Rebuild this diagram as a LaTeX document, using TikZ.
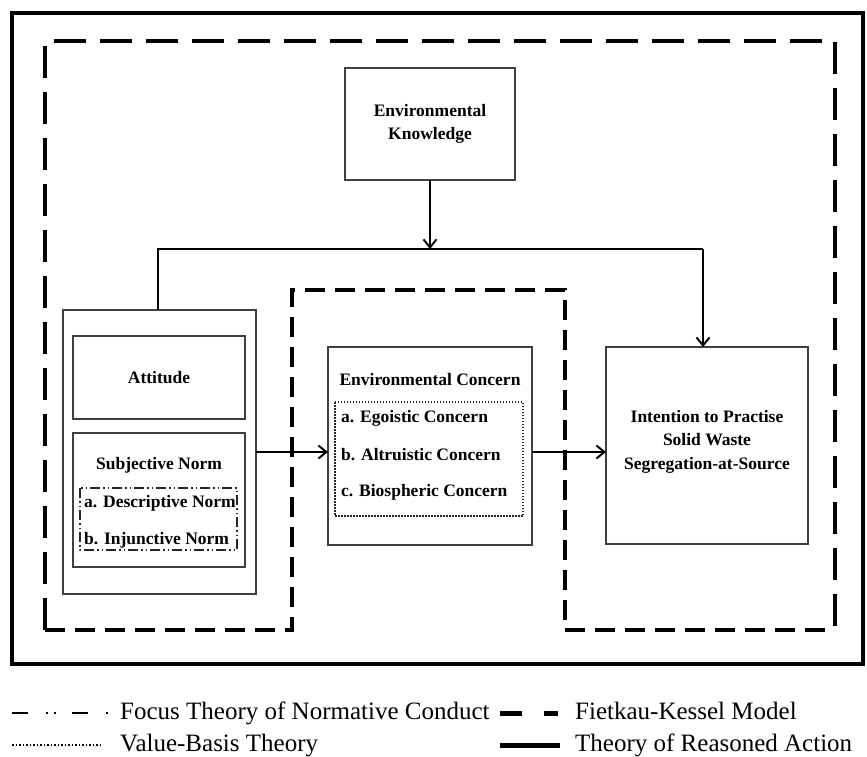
\documentclass[tikz,border=0pt]{standalone}
\usepackage{fontspec}
\setmainfont{Liberation Serif}
\usetikzlibrary{arrows.meta,calc}
\begin{document}
\begin{tikzpicture}[x=1pt,y=-1pt,
 box/.style={draw=black!75,line width=1.1pt,inner sep=0pt,outer sep=0pt,font=\bfseries\fontsize{17.5}{23.5}\selectfont,align=center},
 txt/.style={inner sep=0pt,font=\bfseries\fontsize{17.5}{23.5}\selectfont,align=center},
 conn/.style={line width=2pt},
 arr/.style={conn,-{Straight Barb[length=8pt,width=13pt]}},
 fk/.style={line width=4pt,dash pattern=on 32pt off 14pt,line join=miter},
 fkshort/.style={line width=4pt,dash pattern=on 20pt off 10pt,line join=miter},
 focus/.style={line width=1.5pt,dash pattern=on 10pt off 3pt on 1.5pt off 3pt on 1.5pt off 3pt},
 vb/.style={line width=1.5pt,dash pattern=on 1.5pt off 1.5pt},
 legtxt/.style={inner sep=0pt,anchor=base west,font=\fontsize{25}{30}\selectfont}
]
\useasboundingbox (0,0) rectangle (867,756);

% outer solid frame (Theory of Reasoned Action)
\draw[line width=4pt] (12,13) rectangle (863,664);

% Fietkau-Kessel dashed frame
\draw[fk] (45,630) -- (45,41) -- (835,41) -- (835,630);
\draw[fkshort] (45,630) -- (292,630) -- (292,290) -- (565,290) -- (565,630) -- (835,630);

% boxes
\node[box,minimum width=170pt,minimum height=112pt] (ek) at (430,124) {Environmental\\Knowledge};

\node[box,minimum width=193pt,minimum height=284pt] (attc) at (159.5,452) {};
\node[box,minimum width=172pt,minimum height=83pt] (att) at (159,377.5) {Attitude};
\node[box,minimum width=172pt,minimum height=134pt] (sn) at (159,500) {};
\node[txt] (snt) at (159,465) {Subjective Norm};
\draw[focus,draw=black!85] (80,488) rectangle (237,550);
\node[txt,anchor=west] (sna) at (84,503) {a. Descriptive Norm};
\node[txt,anchor=west] (snb) at (84,540) {b. Injunctive Norm};

\node[box,minimum width=204pt,minimum height=198pt] (ec) at (430,446) {};
\node[txt] (ect) at (430,380) {Environmental Concern};
\draw[vb,draw=black!85] (335,402) rectangle (523,516);
\node[txt,anchor=west] (eca) at (341,418) {a. Egoistic Concern};
\node[txt,anchor=west] (ecb) at (341,455) {b. Altruistic Concern};
\node[txt,anchor=west] (ecc) at (341,492) {c. Biospheric Concern};

\node[box,minimum width=202pt,minimum height=197pt] (int) at (707,445.5) {};
\node[txt] (intt) at (707,441.5) {Intention to Practise\\Solid Waste\\Segregation-at-Source};

% connectors
\coordinate (barL) at (158,249);
\coordinate (barR) at (703,249);
\draw[arr] (ek.south) -- (ek.south |- barL);
\draw[conn] (barL |- attc.north) -- (barL) -- (barR);
\draw[arr] (barR) -- (barR |- int.north);
\draw[arr] (attc.east) -- (attc.east -| ec.west);
\draw[arr] (ec.east |- attc.east) -- (int.west |- attc.east);

% legend
\draw[line width=2pt,dash pattern=on 16pt off 18pt on 2pt off 6pt on 2pt off 16pt] (12,713) -- (110,713);
\node[legtxt] (l1) at (120,719) {Focus Theory of Normative Conduct};
\draw[line width=5pt] (500,713) -- (522,713);
\draw[line width=5pt] (544,713) -- (558,713);
\node[legtxt] (l2) at (575,719) {Fietkau-Kessel Model};
\draw[line width=2pt,dash pattern=on 1.5pt off 2pt] (12,745) -- (102,745);
\node[legtxt] (l3) at (120,751) {Value-Basis Theory};
\draw[line width=5pt] (500,745) -- (560,745);
\node[legtxt] (l4) at (575,751) {Theory of Reasoned Action};
\end{tikzpicture}
\end{document}
